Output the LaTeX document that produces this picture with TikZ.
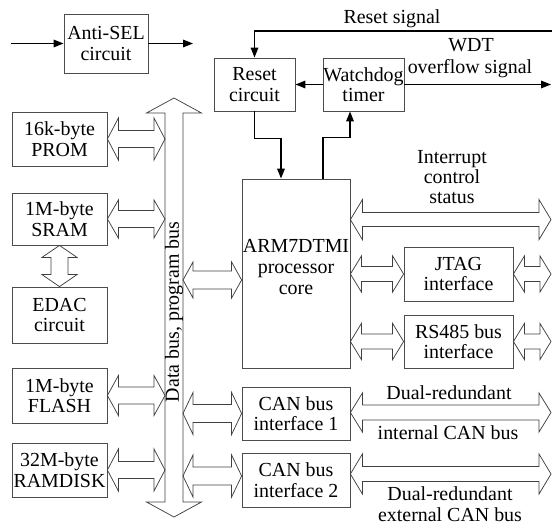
\documentclass[tikz,border=0pt]{standalone}
\usepackage{fontspec}
\setmainfont{Liberation Serif}
\usetikzlibrary{arrows.meta,calc}
\newcommand\hdarrow[5]{%
\draw[blk] let \p1=(#1), \p2=(#2) in
 (\x1,\y1) -- ({\x1+#3},{\y1+#4}) -- ({\x1+#3},{\y1+#5}) -- ({\x2-#3},{\y1+#5}) -- ({\x2-#3},{\y1+#4}) -- (\x2,\y1)
 -- ({\x2-#3},{\y1-#4}) -- ({\x2-#3},{\y1-#5}) -- ({\x1+#3},{\y1-#5}) -- ({\x1+#3},{\y1-#4}) -- cycle;}
\newcommand\vdarrow[5]{%
\draw[blk] let \p1=(#1), \p2=(#2) in
 (\x1,\y1) -- ({\x1+#4},{\y1-#3}) -- ({\x1+#5},{\y1-#3}) -- ({\x1+#5},{\y2+#3}) -- ({\x1+#4},{\y2+#3}) -- (\x1,\y2)
 -- ({\x1-#4},{\y2+#3}) -- ({\x1-#5},{\y2+#3}) -- ({\x1-#5},{\y1-#3}) -- ({\x1-#4},{\y1-#3}) -- cycle;}
\tikzset{
  blk/.style={draw=black!75, line width=0.75bp},
  box/.style={draw=black!70, line width=0.8bp, inner sep=0pt, align=center},
  lbl/.style={inner sep=0pt, align=center},
  ctl/.style={line width=1.5bp, -{Triangle[length=10bp,width=7.5bp]}},
}
\begin{document}
\begin{tikzpicture}[x=1bp,y=-1bp,font=\fontsize{20}{20.5}\selectfont]
\useasboundingbox (0,0) rectangle (552,524);
% boxes
\node[box, minimum width=84bp, minimum height=59bp] (antisel) at (106,43.5) {Anti-SEL\\circuit};
\node[box, minimum width=81bp, minimum height=53bp] (reset) at (254.5,84.5) {Reset\\circuit};
\node[box, minimum width=81bp, minimum height=53bp] (wdt) at (363.5,84.5) {Watchdog\\timer};
\node[box, minimum width=95bp, minimum height=54bp] (prom) at (59.5,139) {16k-byte\\PROM};
\node[box, minimum width=95bp, minimum height=52bp] (sram) at (59.5,219) {1M-byte\\SRAM};
\node[box, minimum width=95bp, minimum height=56bp] (edac) at (59.5,315) {EDAC\\circuit};
\node[box, minimum width=95bp, minimum height=55bp] (flash) at (59.5,395.5) {1M-byte\\FLASH};
\node[box, minimum width=95bp, minimum height=54bp] (ramdisk) at (59.5,470) {32M-byte\\RAMDISK};
\node[box, minimum width=108bp, minimum height=189bp] (arm) at (296,273.5) {};
\node[lbl, font=\fontsize{20}{21.5}\selectfont] (armtxt) at (296,267) {ARM7DTMI\\processor\\core};
\node[box, minimum width=109bp, minimum height=54bp] (jtag) at (458.5,274) {JTAG\\interface};
\node[box, minimum width=109bp, minimum height=53bp] (rs485) at (458.5,341.5) {RS485 bus\\interface};
\node[box, minimum width=108bp, minimum height=53bp] (can1) at (296,413.5) {CAN bus\\interface 1};
\node[box, minimum width=108bp, minimum height=54bp] (can2) at (296,480) {CAN bus\\interface 2};
% reference coordinates
\coordinate (bustop) at (174,98);
\coordinate (busbot) at (174,517);
\coordinate (busl) at (165,300);
\coordinate (busr) at (183,300);
\coordinate (redge) at (551,0);
\coordinate (armbus) at ([yshift=-6.5bp]arm.west);
\coordinate (intl) at ([yshift=-41bp]arm.north east);
\coordinate (intr) at (intl -| redge);
\coordinate (can2l) at ([yshift=4bp]can2.west);
\coordinate (can2r) at ([yshift=6bp]can2.east);
\coordinate (can1r) at ([yshift=1bp]can1.east);
% data bus
\vdarrow{bustop}{busbot}{15bp}{27.5bp}{9bp}
\node[lbl, rotate=90] (buslbl) at (174,312) {Data bus, program bus};
% left block arrows
\hdarrow{prom.east}{prom.east -| busl}{11bp}{21bp}{8.5bp}
\hdarrow{sram.east}{sram.east -| busl}{11bp}{19bp}{8.5bp}
\hdarrow{flash.east}{flash.east -| busl}{11bp}{20bp}{8.5bp}
\hdarrow{ramdisk.east}{ramdisk.east -| busl}{11bp}{21bp}{8.5bp}
\vdarrow{sram.south}{edac.north}{12bp}{17.5bp}{8.5bp}
% bus to right
\hdarrow{armbus -| busr}{armbus}{10bp}{18bp}{9bp}
\hdarrow{can1.west -| busr}{can1.west}{10bp}{21bp}{9bp}
\hdarrow{can2l -| busr}{can2l}{10bp}{21bp}{9bp}
% right side block arrows
\hdarrow{intl}{intr}{12bp}{20bp}{7bp}
\hdarrow{arm.east |- jtag.west}{jtag.west}{11bp}{18bp}{7.5bp}
\hdarrow{jtag.east}{jtag.east -| redge}{11bp}{18bp}{7.5bp}
\hdarrow{arm.east |- rs485.west}{rs485.west}{11bp}{18bp}{7.5bp}
\hdarrow{rs485.east}{rs485.east -| redge}{11bp}{18bp}{7.5bp}
\hdarrow{can1r}{can1r -| redge}{12bp}{19.5bp}{7.5bp}
\hdarrow{can2r}{can2r -| redge}{12bp}{20bp}{7.5bp}
% control lines
\coordinate (selin) at (11,43.5);
\coordinate (selout) at (193,43.5);
\coordinate (rsin) at (552,31);
\coordinate (wdtout) at (551,84.5);
\draw[ctl] (selin) -- (antisel.west);
\draw[ctl] (antisel.east) -- (selout);
\draw[ctl] (rsin) -| (reset.north);
\draw[ctl] (wdt.west) -- (reset.east);
\draw[ctl] (wdt.east) -- (wdtout);
\draw[ctl] (reset.south) -- ++(0,27) -| ([xshift=-15bp]arm.north);
\draw[ctl] ([xshift=27bp]arm.north) -- ++(0,-41) -| ([xshift=-13.5bp]wdt.south);
% labels
\node[lbl] (rsiglbl) at (392,19) {Reset signal};
\node[lbl] (wdtlbl1) at (471,45) {WDT};
\node[lbl] (wdtlbl2) at (470,69) {overflow signal};
\node[lbl] (intlbl) at (452,177) {Interrupt\\control\\status};
\node[lbl] (can1a) at (449,393) {Dual-redundant};
\node[lbl] (can1b) at (448,433) {internal CAN bus};
\node[lbl] (can2a) at (450,504) {Dual-redundant\\external CAN bus};
\end{tikzpicture}
\end{document}
